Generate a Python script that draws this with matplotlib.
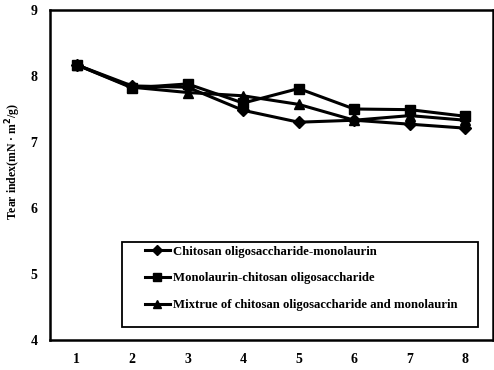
import matplotlib
matplotlib.use("Agg")
import matplotlib.pyplot as plt
from matplotlib.patches import Rectangle

plt.rcParams['font.family'] = ['Liberation Serif', 'DejaVu Serif']
plt.rcParams['font.weight'] = 'bold'

stages = [1, 2, 3, 4, 5, 6, 7, 8]
cos_ml = [8.17, 7.85, 7.83, 7.48, 7.30, 7.33, 7.27, 7.21]
ml_cos = [8.17, 7.82, 7.88, 7.59, 7.81, 7.50, 7.49, 7.39]
mixture = [8.17, 7.83, 7.75, 7.70, 7.57, 7.33, 7.40, 7.33]

labels = ["Chitosan oligosaccharide-monolaurin",
          "Monolaurin-chitosan oligosaccharide",
          "Mixtrue of chitosan oligosaccharide and monolaurin"]

fig = plt.figure(figsize=(4.94, 3.70), dpi=100)
ax = fig.add_axes([0.101, 0.081, 0.897, 0.892])

ax.plot(stages, cos_ml, color='black', lw=2.2, marker='D', ms=6, label=labels[0])
ax.plot(stages, ml_cos, color='black', lw=2.2, marker='s', ms=7, label=labels[1])
ax.plot(stages, mixture, color='black', lw=2.2, marker='^', ms=7, label=labels[2])

ax.set_xlim(0.52, 8.5)
ax.set_ylim(4, 9)
ax.set_xticks(stages)
ax.set_yticks([4, 5, 6, 7, 8, 9])
ax.tick_params(length=0, labelsize=10, pad=9)
for sp in ax.spines.values():
    sp.set_linewidth(1.8)

ax.set_ylabel("Tear index(mN · m$^2$/g)", fontsize=8.5, fontweight='bold')
ax.yaxis.set_label_coords(-0.06, 0.54)

# legend box drawn separately so the entries can sit with a wide left margin
ax.add_patch(Rectangle((0.1625, 0.039), 0.8035, 0.258, transform=ax.transAxes,
                       fill=True, facecolor='white', edgecolor='black',
                       lw=1.3, zorder=4))
leg = ax.legend(loc='upper left', bbox_to_anchor=(0.214, 0.286),
                borderaxespad=0, borderpad=0, fontsize=9.2, frameon=False,
                handlelength=1.95, handletextpad=0.25, labelspacing=1.15,
                markerscale=0.8)
leg.set_zorder(5)

fig.savefig("out.png", dpi=100)
